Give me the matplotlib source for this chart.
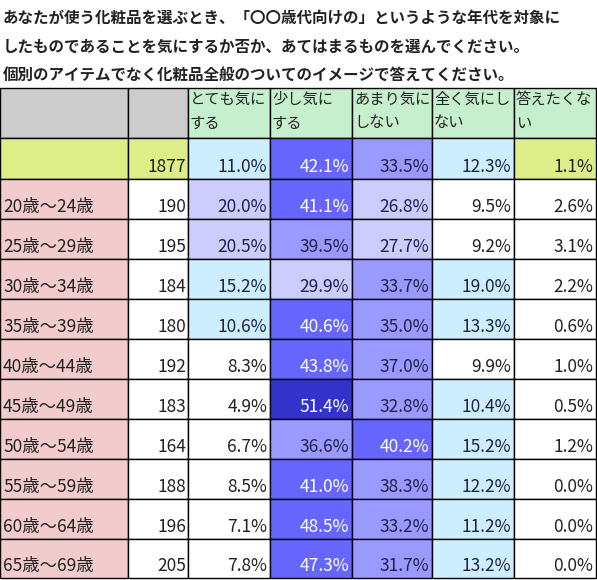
import matplotlib
matplotlib.use("Agg")
import matplotlib.pyplot as plt
from matplotlib.patches import Rectangle

plt.rcParams['font.family'] = ['Noto Sans CJK JP', 'DejaVu Sans']

title_lines = ["あなたが使う化粧品を選ぶとき、「〇〇歳代向けの」というような年代を対象に",
               "したものであることを気にするか否か、あてはまるものを選んでください。",
               "個別のアイテムでなく化粧品全般のついてのイメージで答えてください。"]
headers = ["とても気に\nする", "少し気に\nする", "あまり気に\nしない", "全く気にし\nない", "答えたくな\nい"]
total_n = 1877
total_vals = [11.0, 42.1, 33.5, 12.3, 1.1]
ages = ["20歳～24歳", "25歳～29歳", "30歳～34歳", "35歳～39歳", "40歳～44歳",
        "45歳～49歳", "50歳～54歳", "55歳～59歳", "60歳～64歳", "65歳～69歳"]
ns = [190, 195, 184, 180, 192, 183, 164, 188, 196, 205]
vals = [
    [20.0, 41.1, 26.8, 9.5, 2.6],
    [20.5, 39.5, 27.7, 9.2, 3.1],
    [15.2, 29.9, 33.7, 19.0, 2.2],
    [10.6, 40.6, 35.0, 13.3, 0.6],
    [8.3, 43.8, 37.0, 9.9, 1.0],
    [4.9, 51.4, 32.8, 10.4, 0.5],
    [6.7, 36.6, 40.2, 15.2, 1.2],
    [8.5, 41.0, 38.3, 12.2, 0.0],
    [7.1, 48.5, 33.2, 11.2, 0.0],
    [7.8, 47.3, 31.7, 13.2, 0.0],
]

W, H = 597, 580
fig = plt.figure(figsize=(W/100, H/100), dpi=100)
ax = fig.add_axes([0, 0, 1, 1])
ax.set_xlim(0, W); ax.set_ylim(H, 0); ax.axis('off')

def color(v, default='white'):
    if v >= 50: return '#3333cc', 'white'
    if v >= 40: return '#6666ff', 'white'
    if v >= 30: return '#9999ff', '#222244'
    if v >= 20: return '#ccccff', '#222244'
    if v >= 10: return '#cceeff', '#222244'
    return default, '#222222'

xs = [0, 128, 188, 270, 352, 432, 514, 596]
ys = [88, 138, 179] + [179 + 40*(i+1) for i in range(10)]
ys[-1] = 578

for i, t in enumerate(title_lines):
    ax.text(3, 18 + 29*i, t, fontsize=11.2, fontweight='bold', va='center', ha='left', color='#222222')

def cell(c, r, fc):
    ax.add_patch(Rectangle((xs[c], ys[r]), xs[c+1]-xs[c], ys[r+1]-ys[r], fc=fc, ec='black', lw=1))

fs = 12.5
# header
cell(0, 0, '#cccccc'); cell(1, 0, '#cccccc')
for j, h in enumerate(headers):
    cell(j+2, 0, '#c6efce')
    ax.text(xs[j+2]+2, ys[0]+3, h, fontsize=11, va='top', ha='left', linespacing=1.5, color='#222222')
# total
cell(0, 1, '#ddee88'); cell(1, 1, '#ddee88')
ax.text(xs[2]-2, ys[2]-3, str(total_n), fontsize=fs, ha='right', va='bottom', color='#222222')
for j, v in enumerate(total_vals):
    fc, tc = color(v, '#ddee88')
    cell(j+2, 1, fc)
    ax.text(xs[j+3]-3, ys[2]-3, f"{v:.1f}%", fontsize=fs, ha='right', va='bottom', color=tc)
# rows
for i, (a, n, row) in enumerate(zip(ages, ns, vals)):
    r = i + 2
    cell(0, r, '#f2cccc'); cell(1, r, 'white')
    yb = ys[r+1] - 3
    ax.text(3, yb, a, fontsize=fs, ha='left', va='bottom', color='#222222')
    ax.text(xs[2]-2, yb, str(n), fontsize=fs, ha='right', va='bottom', color='#222222')
    for j, v in enumerate(row):
        fc, tc = color(v)
        cell(j+2, r, fc)
        ax.text(xs[j+3]-3, yb, f"{v:.1f}%", fontsize=fs, ha='right', va='bottom', color=tc)

fig.savefig("out.png", dpi=100)
